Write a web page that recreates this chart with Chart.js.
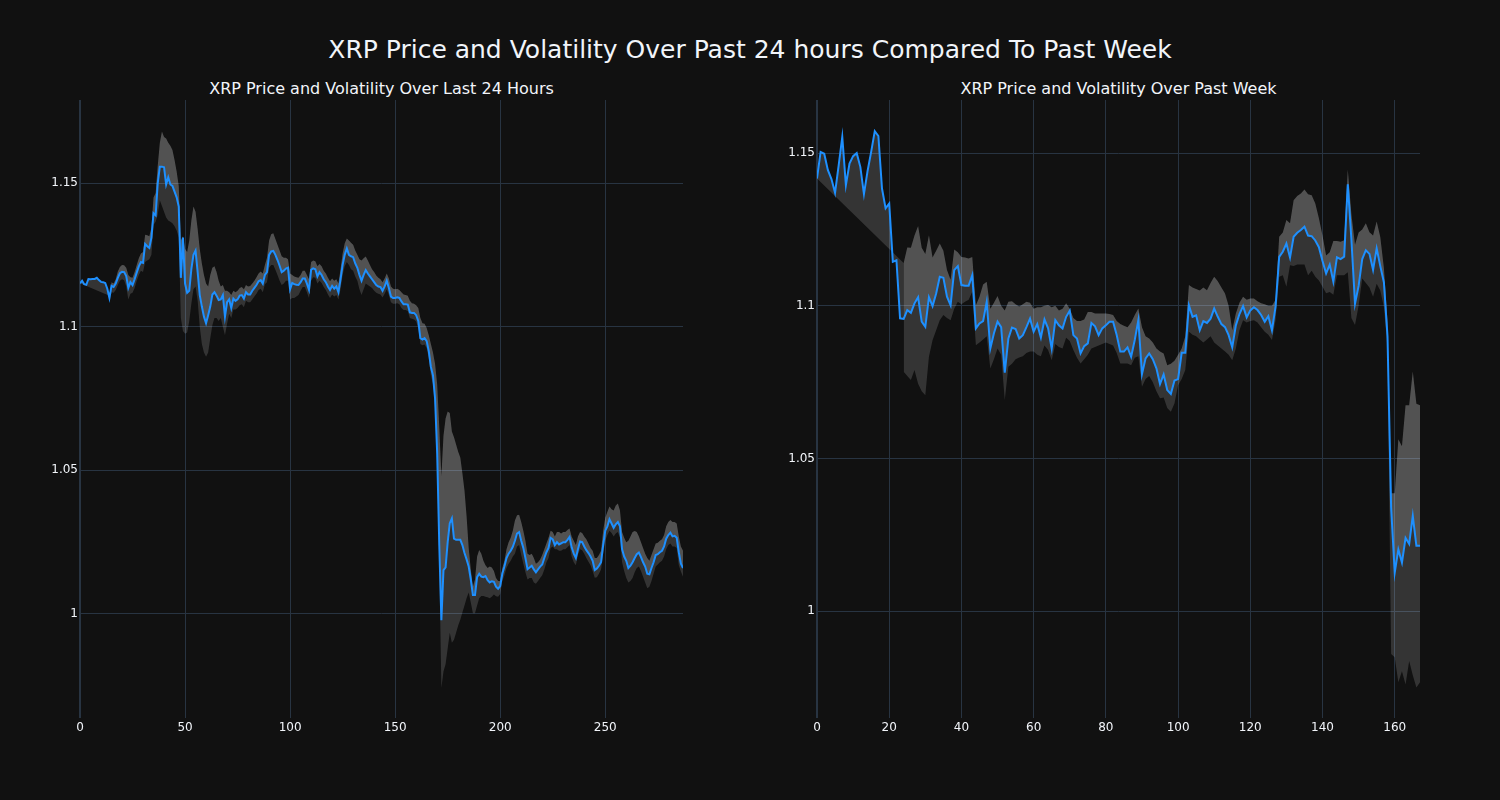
<!DOCTYPE html>
<html><head><meta charset="utf-8">
<script src="https://cdn.jsdelivr.net/npm/chart.js@4.4.1/dist/chart.umd.min.js"></script>
<style>
html,body{margin:0;padding:0;background:#111111;width:1500px;height:800px;overflow:hidden;}
.t{position:absolute;font-family:'DejaVu Sans';color:#f2f5fa;white-space:nowrap;line-height:1;text-align:center;}
canvas{position:absolute;top:0;}
</style></head><body>
<div class="t" style="left:0;width:1500px;top:37px;font-size:25px;">XRP Price and Volatility Over Past 24 hours Compared To Past Week</div>
<div class="t" style="left:80px;width:603px;top:81px;font-size:16px;">XRP Price and Volatility Over Last 24 Hours</div>
<div class="t" style="left:817px;width:603px;top:81px;font-size:16px;">XRP Price and Volatility Over Past Week</div>
<canvas id="c1" width="750" height="800" style="left:0"></canvas>
<canvas id="c2" width="750" height="800" style="left:750px"></canvas>
<script>
// ---- Last 24 hours (5-minute steps) ----
const price24 = [
1.1151,1.1160,1.1148,1.1146,1.1166,1.1165,1.1166,1.1166,1.1170,1.1162,1.1156,1.1155,
1.1152,1.1132,1.1100,1.1142,1.1138,1.1150,1.1170,1.1186,1.1191,1.1190,1.1176,1.1135,
1.1155,1.1145,1.1165,1.1188,1.1210,1.1225,1.1222,1.1288,1.1280,1.1274,1.1310,1.1395,
1.1388,1.1500,1.1557,1.1557,1.1555,1.1495,1.1520,1.1495,1.1490,1.1470,1.1450,1.1418,
1.1170,1.1310,1.1150,1.1118,1.1125,1.1200,1.1250,1.1265,1.1190,1.1110,1.1070,1.1035,
1.1012,1.1040,1.1070,1.1112,1.1120,1.1108,1.1093,1.1095,1.1110,1.1035,1.1085,1.1095,
1.1065,1.1098,1.1090,1.1095,1.1108,1.1110,1.1098,1.1120,1.1112,1.1112,1.1125,1.1135,
1.1145,1.1158,1.1162,1.1150,1.1180,1.1190,1.1250,1.1262,1.1264,1.1250,1.1232,1.1212,
1.1190,1.1195,1.1202,1.1205,1.1130,1.1152,1.1148,1.1146,1.1145,1.1155,1.1168,1.1168,
1.1150,1.1128,1.1198,1.1203,1.1200,1.1175,1.1190,1.1180,1.1165,1.1155,1.1140,1.1128,
1.1142,1.1132,1.1140,1.1120,1.1165,1.1215,1.1250,1.1272,1.1250,1.1245,1.1242,1.1220,
1.1205,1.1180,1.1160,1.1180,1.1197,1.1185,1.1175,1.1165,1.1155,1.1145,1.1140,1.1138,
1.1125,1.1140,1.1160,1.1135,1.1105,1.1100,1.1100,1.1102,1.1100,1.1088,1.1078,1.1078,
1.1077,1.1050,1.1048,1.1048,1.1040,1.1020,1.0960,1.0955,1.0960,1.0950,1.0915,1.0860,
1.0830,1.0750,1.0560,1.0240,0.9978,1.0153,1.0162,1.0250,1.0316,1.0333,1.0262,1.0258,
1.0258,1.0258,1.0240,1.0212,1.0190,1.0165,1.0120,1.0066,1.0066,1.0128,1.0140,1.0130,
1.0128,1.0132,1.0118,1.0110,1.0114,1.0112,1.0095,1.0088,1.0097,1.0140,1.0165,1.0195,
1.0210,1.0220,1.0234,1.0255,1.0280,1.0285,1.0255,1.0230,1.0195,1.0156,1.0162,1.0168,
1.0155,1.0145,1.0155,1.0165,1.0172,1.0195,1.0215,1.0230,1.0265,1.0260,1.0240,1.0250,
1.0242,1.0246,1.0250,1.0250,1.0258,1.0268,1.0232,1.0210,1.0195,1.0225,1.0252,1.0250,
1.0235,1.0222,1.0212,1.0200,1.0185,1.0153,1.0158,1.0168,1.0180,1.0240,1.0290,1.0305,
1.0330,1.0315,1.0300,1.0312,1.0320,1.0305,1.0225,1.0200,1.0185,1.0160,1.0168,1.0180,
1.0195,1.0208,1.0214,1.0198,1.0180,1.0165,1.0140,1.0138,1.0160,1.0180,1.0205,1.0208,
1.0215,1.0220,1.0235,1.0262,1.0275,1.0283,1.0270,1.0272,1.0265,1.0215,1.0175,1.0160
];
const upper24 = [
1.1151,null,null,null,null,null,null,null,null,null,null,null,
null,null,1.1108,1.1155,1.1150,1.1165,1.1192,1.1208,1.1215,1.1214,1.1205,1.1180,
1.1172,1.1170,1.1190,1.1215,1.1238,1.1255,1.1260,1.1320,1.1318,1.1315,1.1345,1.1450,
1.1465,1.1560,1.1640,1.1679,1.1660,1.1655,1.1640,1.1630,1.1615,1.1580,1.1540,1.1490,
1.1300,1.1315,1.1270,1.1260,1.1300,1.1370,1.1418,1.1400,1.1340,1.1270,1.1220,1.1180,
1.1150,1.1140,1.1180,1.1205,1.1210,1.1190,1.1160,1.1140,1.1145,1.1125,1.1125,1.1120,
1.1110,1.1125,1.1120,1.1125,1.1135,1.1138,1.1130,1.1145,1.1140,1.1142,1.1150,1.1160,
1.1172,1.1185,1.1192,1.1185,1.1215,1.1240,1.1300,1.1322,1.1325,1.1305,1.1285,1.1265,
1.1245,1.1240,1.1240,1.1235,1.1185,1.1180,1.1175,1.1172,1.1170,1.1180,1.1195,1.1195,
1.1180,1.1165,1.1225,1.1230,1.1228,1.1210,1.1218,1.1210,1.1195,1.1185,1.1170,1.1158,
1.1168,1.1160,1.1165,1.1150,1.1200,1.1255,1.1290,1.1307,1.1300,1.1292,1.1285,1.1265,
1.1250,1.1235,1.1230,1.1238,1.1244,1.1230,1.1215,1.1200,1.1190,1.1178,1.1170,1.1165,
1.1155,1.1168,1.1185,1.1168,1.1140,1.1132,1.1130,1.1132,1.1128,1.1120,1.1112,1.1110,
1.1108,1.1090,1.1082,1.1080,1.1075,1.1065,1.1030,1.1012,1.1010,1.0995,1.0970,1.0940,
1.0910,1.0870,1.0800,1.0650,1.0480,1.0620,1.0680,1.0705,1.0700,1.0635,1.0615,1.0590,
1.0565,1.0545,1.0490,1.0430,1.0340,1.0230,1.0155,1.0095,1.0120,1.0200,1.0223,1.0210,
1.0185,1.0170,1.0160,1.0165,1.0162,1.0150,1.0125,1.0115,1.0115,1.0160,1.0185,1.0225,
1.0250,1.0265,1.0290,1.0325,1.0344,1.0345,1.0320,1.0290,1.0255,1.0210,1.0205,1.0210,
1.0195,1.0175,1.0180,1.0190,1.0205,1.0225,1.0245,1.0265,1.0290,1.0285,1.0270,1.0285,
1.0285,1.0280,1.0285,1.0285,1.0292,1.0298,1.0270,1.0255,1.0240,1.0270,1.0285,1.0282,
1.0270,1.0260,1.0245,1.0230,1.0220,1.0195,1.0195,1.0205,1.0220,1.0290,1.0335,1.0355,
1.0374,1.0365,1.0360,1.0378,1.0385,1.0360,1.0285,1.0265,1.0250,1.0255,1.0270,1.0285,
1.0289,1.0285,1.0270,1.0250,1.0230,1.0210,1.0195,1.0185,1.0205,1.0225,1.0245,1.0248,
1.0255,1.0260,1.0275,1.0305,1.0320,1.0327,1.0320,1.0320,1.0315,1.0270,1.0235,1.0220
];
const lower24 = [
null,null,null,null,null,null,null,null,null,null,null,null,
null,null,1.1085,1.1120,1.1118,1.1128,1.1145,1.1160,1.1165,1.1162,1.1140,1.1095,
1.1115,1.1118,1.1135,1.1160,1.1180,1.1195,1.1190,1.1225,1.1230,1.1235,1.1250,1.1355,
1.1365,1.1390,1.1440,1.1420,1.1400,1.1380,1.1370,1.1365,1.1360,1.1350,1.1335,1.1310,
1.1030,1.0985,1.0975,1.0980,1.1020,1.1080,1.1130,1.1140,1.1090,1.1000,1.0940,1.0910,
1.0895,1.0910,1.0960,1.1005,1.1030,1.1030,1.1020,1.1030,1.1000,1.0970,1.1010,1.1045,
1.1030,1.1060,1.1060,1.1065,1.1075,1.1078,1.1068,1.1090,1.1085,1.1085,1.1095,1.1105,
1.1115,1.1128,1.1132,1.1120,1.1148,1.1155,1.1205,1.1215,1.1215,1.1198,1.1180,1.1160,
1.1145,1.1150,1.1160,1.1160,1.1095,1.1100,1.1100,1.1105,1.1110,1.1125,1.1138,1.1138,
1.1120,1.1100,1.1160,1.1172,1.1170,1.1150,1.1160,1.1152,1.1138,1.1128,1.1112,1.1100,
1.1112,1.1105,1.1110,1.1095,1.1130,1.1180,1.1210,1.1225,1.1215,1.1200,1.1195,1.1175,
1.1160,1.1130,1.1110,1.1130,1.1150,1.1145,1.1140,1.1135,1.1125,1.1118,1.1115,1.1112,
1.1102,1.1115,1.1130,1.1110,1.1085,1.1080,1.1080,1.1082,1.1078,1.1065,1.1058,1.1058,
1.1055,1.1030,1.1028,1.1025,1.1018,1.0995,1.0940,1.0935,1.0938,1.0925,1.0890,1.0830,
1.0800,1.0715,1.0520,1.0180,0.9742,0.9800,0.9825,0.9880,0.9935,0.9900,0.9910,0.9935,
0.9960,0.9980,1.0005,1.0030,1.0055,1.0075,1.0040,1.0003,1.0003,1.0030,1.0055,1.0063,
1.0063,1.0060,1.0058,1.0055,1.0060,1.0068,1.0062,1.0060,1.0070,1.0115,1.0135,1.0160,
1.0175,1.0185,1.0200,1.0210,1.0235,1.0240,1.0205,1.0175,1.0145,1.0120,1.0125,1.0125,
1.0110,1.0105,1.0115,1.0125,1.0135,1.0155,1.0180,1.0195,1.0230,1.0235,1.0225,1.0225,
1.0220,1.0220,1.0225,1.0225,1.0232,1.0240,1.0200,1.0180,1.0170,1.0205,1.0225,1.0222,
1.0210,1.0195,1.0182,1.0170,1.0150,1.0126,1.0128,1.0140,1.0155,1.0210,1.0255,1.0275,
1.0290,1.0282,1.0270,1.0280,1.0285,1.0265,1.0180,1.0150,1.0125,1.0110,1.0115,1.0125,
1.0145,1.0160,1.0165,1.0150,1.0130,1.0110,1.0090,1.0095,1.0115,1.0140,1.0165,1.0172,
1.0180,1.0185,1.0200,1.0225,1.0240,1.0245,1.0235,1.0235,1.0230,1.0170,1.0148,1.0130
];
const xTicks24 = [0, 50, 100, 150, 200, 250];
const yTicks24 = [1, 1.05, 1.1, 1.15];

// ---- Past week (hourly steps) ----
const priceWeek = [
1.1417,1.1504,1.1498,1.1445,1.1415,1.1370,1.1460,1.1553,1.1395,1.1466,1.1490,1.1500,
1.1455,1.1366,1.1441,1.1504,1.1572,1.1556,1.1384,1.1319,1.1335,1.1144,1.1149,1.0959,
1.0957,1.0986,1.0977,1.1008,1.1028,1.0948,1.0931,1.1028,1.0999,1.1040,1.1095,1.1092,
1.1030,1.1002,1.1117,1.1130,1.1068,1.1066,1.1066,1.1100,1.0926,1.0942,1.0950,1.1013,
1.0860,1.0910,1.0948,1.0930,1.0781,1.0893,1.0929,1.0924,1.0893,1.0904,1.0930,1.0958,
1.0915,1.0940,1.0896,1.0955,1.0926,1.0860,1.0953,1.0936,1.0926,1.0964,1.0984,1.0904,
1.0893,1.0844,1.0868,1.0877,1.0944,1.0933,1.0904,1.0926,1.0936,1.0948,1.0948,1.0904,
1.0850,1.0850,1.0864,1.0833,1.0888,1.0953,1.0776,1.0828,1.0844,1.0825,1.0795,1.0744,
1.0775,1.0724,1.0711,1.0755,1.0760,1.0846,1.0846,1.1002,1.0964,1.0969,1.0920,1.0950,
1.0944,1.0958,1.0991,1.0964,1.0940,1.0930,1.0904,1.0864,1.0936,1.0973,1.0999,1.0962,
1.0985,1.0995,1.0986,1.0970,1.0948,1.0966,1.0920,1.0997,1.1160,1.1177,1.1204,1.1158,
1.1226,1.1239,1.1248,1.1259,1.1230,1.1228,1.1214,1.1192,1.1147,1.1106,1.1135,1.1079,
1.1159,1.1153,1.1161,1.1398,1.1217,1.1007,1.1065,1.1153,1.1182,1.1170,1.1118,1.1188,
1.1130,1.1077,1.0900,1.0340,1.0126,1.0202,1.0159,1.0240,1.0220,1.0312,1.0214,1.0214
];
const upperWeek = [
1.1417,null,null,null,null,null,null,null,null,null,null,null,
null,null,null,null,null,null,null,null,null,null,null,null,
1.1140,1.1191,1.1190,1.1230,1.1261,1.1190,1.1170,1.1231,1.1158,1.1180,1.1204,1.1180,
1.1117,1.1085,1.1184,1.1175,1.1160,1.1158,1.1155,1.1160,1.1002,1.1030,1.1070,1.1079,
1.0990,1.1010,1.1032,1.1000,1.0985,1.1013,1.1015,1.1005,1.0998,1.1005,1.1013,1.1010,
1.0990,1.0995,1.0995,1.1000,1.1003,1.0995,1.1000,1.0985,1.0990,1.1008,1.0990,1.0960,
1.0950,1.0950,1.0955,1.0980,1.0980,1.0975,1.0975,1.0975,1.0975,1.0973,1.0970,1.0950,
1.0940,1.0935,1.0930,1.0945,1.0970,1.0991,1.0930,1.0900,1.0893,1.0880,1.0860,1.0850,
1.0844,1.0805,1.0810,1.0820,1.0840,1.0860,1.0900,1.1068,1.1060,1.1055,1.1050,1.1060,
1.1051,1.1075,1.1095,1.1080,1.1060,1.1040,1.1000,1.0920,1.0975,1.1010,1.1030,1.1020,
1.1024,1.1024,1.1015,1.1008,1.1005,1.1000,1.1000,1.1020,1.1226,1.1240,1.1281,1.1270,
1.1346,1.1360,1.1368,1.1381,1.1365,1.1362,1.1335,1.1287,1.1230,1.1165,1.1175,1.1212,
1.1212,1.1210,1.1215,1.1446,1.1300,1.1200,1.1240,1.1250,1.1270,1.1241,1.1230,1.1276,
1.1225,1.1124,1.0950,1.0386,1.0386,1.0563,1.0540,1.0674,1.0674,1.0785,1.0679,1.0674
];
const lowerWeek = [
null,null,null,null,null,null,null,null,null,null,null,null,
null,null,null,null,null,null,null,null,null,null,null,null,
1.0784,1.0770,1.0757,1.0790,1.0745,1.0720,1.0707,1.0833,1.0887,1.0920,1.0953,1.0970,
1.0960,1.0953,1.0990,1.1013,1.1005,1.1013,1.1020,1.1046,1.0871,1.0880,1.0890,1.0900,
1.0795,1.0825,1.0860,1.0840,1.0691,1.0800,1.0810,1.0825,1.0831,1.0835,1.0845,1.0850,
1.0850,1.0840,1.0835,1.0870,1.0855,1.0822,1.0875,1.0865,1.0860,1.0895,1.0885,1.0855,
1.0830,1.0811,1.0825,1.0840,1.0860,1.0865,1.0870,1.0875,1.0880,1.0875,1.0870,1.0845,
1.0811,1.0811,1.0811,1.0805,1.0830,1.0835,1.0735,1.0760,1.0770,1.0750,1.0720,1.0697,
1.0700,1.0665,1.0653,1.0680,1.0740,1.0760,1.0790,1.0915,1.0905,1.0900,1.0890,1.0880,
1.0890,1.0900,1.0880,1.0870,1.0860,1.0850,1.0840,1.0822,1.0860,1.0920,1.0953,1.0945,
1.0950,1.0953,1.0945,1.0930,1.0915,1.0905,1.0888,1.0953,1.1095,1.1100,1.1062,1.1133,
1.1130,1.1135,1.1135,1.1135,1.1100,1.1115,1.1095,1.1083,1.1062,1.1041,1.1045,1.1036,
1.1100,1.1100,1.1100,1.1110,1.0960,1.0937,1.1000,1.1089,1.1075,1.1060,1.1030,1.1072,
1.1050,1.0996,1.0860,0.9860,0.9849,0.9767,0.9803,0.9760,0.9837,0.9790,0.9750,0.9767
];
const xTicksWeek = [0, 20, 40, 60, 80, 100, 120, 140, 160];
const yTicksWeek = [1, 1.05, 1.1, 1.15];

const BAND = 'rgba(255,255,255,0.15)';
const GRID = '#283442';
const TICK = '#f2f5fa';
const XH = 40;

function build(id, price, upper, lower, xTicks, yTicks, xMax, yMin, yMax, yAxisW, padRight) {
  const labels = price.map((_, i) => i);
  new Chart(document.getElementById(id), {
    type: 'line',
    data: {
      labels: labels,
      datasets: [
        {data: price, borderColor: '#1E90FF', borderWidth: 2, pointRadius: 0, pointHoverRadius: 0, fill: false, tension: 0},
        {data: upper, borderColor: 'rgba(0,0,0,0)', borderWidth: 0, pointRadius: 0, pointHoverRadius: 0, fill: '-1', backgroundColor: BAND, spanGaps: true, tension: 0},
        {data: lower, borderColor: 'rgba(0,0,0,0)', borderWidth: 0, pointRadius: 0, pointHoverRadius: 0, fill: '-1', backgroundColor: BAND, spanGaps: false, tension: 0}
      ]
    },
    options: {
      responsive: false, animation: false, devicePixelRatio: 1, events: [],
      layout: {padding: {left: 0, right: padRight, top: 100, bottom: 800 - 718 - XH}},
      plugins: {legend: {display: false}, tooltip: {enabled: false}, title: {display: false}},
      scales: {
        x: {
          type: 'linear', min: 0, max: xMax,
          afterFit: s => { s.height = XH; },
          afterBuildTicks: s => { s.ticks = xTicks.map(v => ({value: v})); },
          grid: {color: GRID, lineWidth: c => (c.tick && c.tick.value === 0) ? 2 : 1, drawTicks: false},
          border: {display: false},
          ticks: {color: TICK, font: {family: 'DejaVu Sans', size: 12}, padding: 3, maxRotation: 0, autoSkip: false, callback: v => String(v)}
        },
        y: {
          type: 'linear', min: yMin, max: yMax,
          afterFit: s => { s.width = yAxisW; },
          afterBuildTicks: s => { s.ticks = yTicks.map(v => ({value: v})); },
          grid: {color: GRID, lineWidth: 1, drawTicks: false},
          border: {display: false},
          ticks: {color: TICK, font: {family: 'DejaVu Sans', size: 12}, padding: 2, autoSkip: false, callback: v => String(+Number(v).toFixed(4))}
        }
      }
    }
  });
}

build('c1', price24, upper24, lower24, xTicks24, yTicks24, 287, 0.9638, 1.1789, 80, 67);
build('c2', priceWeek, upperWeek, lowerWeek, xTicksWeek, yTicksWeek, 167, 0.965, 1.1674, 67, 80);
</script>
</body></html>
